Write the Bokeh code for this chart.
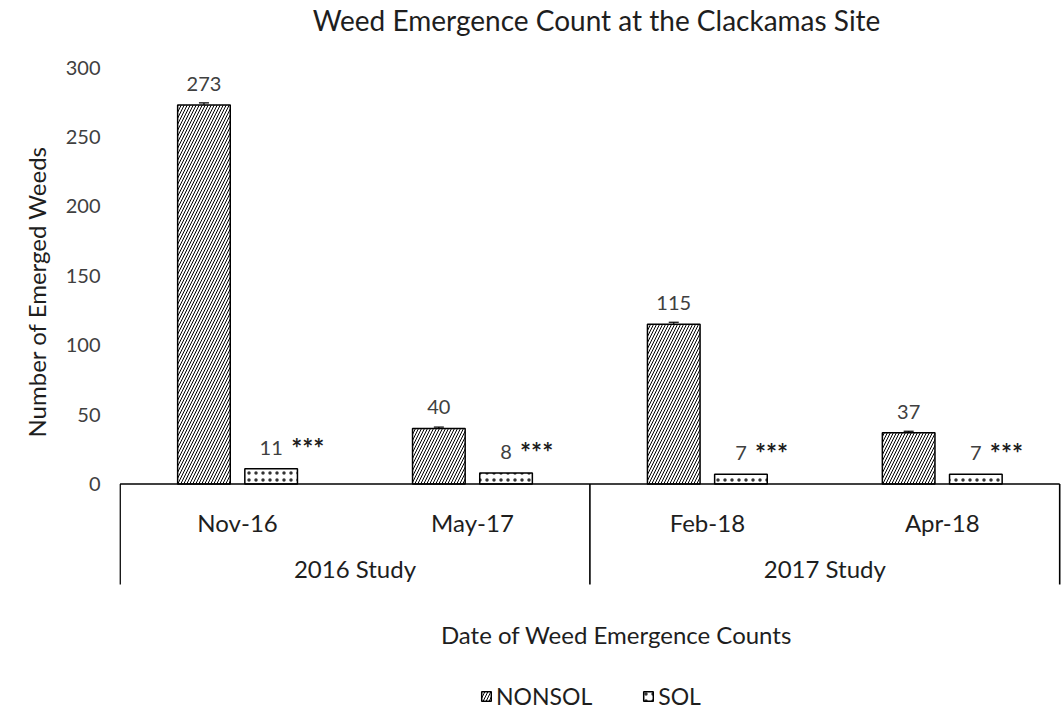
import math
from bokeh.plotting import figure
from bokeh.models import (ColumnDataSource, FixedTicker, Whisker, TeeHead, Legend,
                          LegendItem, Title, Range1d)
from bokeh.core.properties import value
from bokeh.embed import file_html
from bokeh.resources import INLINE

# ---- data ----
title_text = "Weed Emergence Count at the Clackamas Site"
dates = ["Nov-16", "May-17", "Feb-18", "Apr-18"]
studies = ["2016 Study", "2017 Study"]
study_sizes = [2, 2]
nonsol = [273, 40, 115, 37]
sol = [11, 8, 7, 7]
nonsol_err = [1.5, 1.0, 1.5, 1.0]
sig_marks = ["***", "***", "***", "***"]
y_ticks = [0, 50, 100, 150, 200, 250, 300]
y_label = "Number of Emerged Weeds"
x_label = "Date of Weed Emergence Counts"
series_names = ["NONSOL", "SOL"]

FONT = value("Lato")
DARK = "#1e1e1e"
GREY = "#404040"

W, H = 1063, 710
LEFT = 119
X0 = 119.6          # pixel of x = 0
UX = 234.9          # pixels per category
Y0 = 483.5          # pixel of y = 0
U = 300.0 / 416.5   # data units per pixel (vertical)


def px_x(px):
    return (px - X0) / UX


def px_y(py):
    return (Y0 - py) * U


n = len(dates)
p = figure(width=W, height=H, output_backend="svg", toolbar_location=None,
           x_range=Range1d(px_x(LEFT), px_x(W)), y_range=Range1d(px_y(H), px_y(0)),
           x_axis_type=None, min_border_left=LEFT, min_border_right=0,
           min_border_top=0, min_border_bottom=0)
p.outline_line_color = None
p.grid.visible = False
p.background_fill_color = "white"

yax = p.yaxis[0]
yax.ticker = FixedTicker(ticks=y_ticks)
yax.axis_line_color = None
yax.major_tick_line_color = None
yax.minor_tick_line_color = None
yax.major_tick_out = 0
yax.major_tick_in = 0
yax.major_label_standoff = 19
yax.major_label_text_font = "Lato"
yax.major_label_text_font_size = "20px"
yax.major_label_text_color = GREY

# y-axis title as a side title (kept outside the plotting frame)
ytitle = Title(text=y_label, align="left", offset=273, text_font="Lato",
               text_font_size="24px", text_font_style="normal", text_color=DARK,
               vertical_align="top", standoff=20)
p.add_layout(ytitle, "left")

xc = [i + 0.5 for i in range(n)]
off = 0.143
bw = 0.224
src = ColumnDataSource(dict(
    xn=[x - off for x in xc], xs=[x + off for x in xc],
    nonsol=nonsol, sol=sol,
    up=[v + e for v, e in zip(nonsol, nonsol_err)],
    lo=[v - e for v, e in zip(nonsol, nonsol_err)],
    nlab=[str(v) for v in nonsol], slab=[str(v) for v in sol], sig=sig_marks,
    sigoff=[8 + 6 * len(str(v)) for v in sol],
))

r1 = p.vbar(x="xn", top="nonsol", width=bw, bottom=0, source=src,
            fill_color="white", line_color="black", line_width=1.5,
            hatch_pattern="/", hatch_color="black", hatch_scale=6, hatch_weight=1.0)
r2 = p.vbar(x="xs", top="sol", width=bw, bottom=0, source=src,
            fill_color="white", line_color="black", line_width=1.5,
            hatch_pattern=".", hatch_color="#333333", hatch_scale=7, hatch_weight=1.1)

wh = Whisker(base="xn", upper="up", lower="lo", source=src, line_color="black",
             line_width=1.2,
             upper_head=TeeHead(size=10, line_color="black", line_width=1.2),
             lower_head=TeeHead(size=10, line_color="black", line_width=1.2))
p.add_layout(wh)

# value labels
p.text(x="xn", y="nonsol", text="nlab", source=src, text_font=FONT,
       text_font_size="20px", text_color=GREY, text_align="center",
       text_baseline="alphabetic", y_offset=-21)
p.text(x="xs", y="sol", text="slab", source=src, text_font=FONT,
       text_font_size="20px", text_color=GREY, text_align="center",
       text_baseline="alphabetic", y_offset=-21)
p.text(x="xs", y="sol", text="sig", source=src, text_font=FONT,
       text_font_size="26px", text_font_style="bold", text_color=DARK,
       text_align="left", text_baseline="alphabetic", x_offset="sigoff", y_offset=-21)

# axis baseline and group separators
p.segment(x0=[0], y0=[0], x1=[n], y1=[0], line_color="black", line_width=1.6)
bounds = [0]
for s in study_sizes:
    bounds.append(bounds[-1] + s)
y_sep = px_y(584)
p.segment(x0=bounds, y0=[0] * len(bounds), x1=bounds, y1=[y_sep] * len(bounds),
          line_color="black", line_width=1.6)

# category labels
p.text(x=xc, y=[px_y(522)] * n, text=dates, text_font=FONT,
       text_font_size="24px", text_color=DARK, text_align="center",
       text_baseline="middle")
gc = [(bounds[i] + bounds[i + 1]) / 2 for i in range(len(studies))]
p.text(x=gc, y=[px_y(568)] * len(studies), text=studies, text_font=FONT,
       text_font_size="24px", text_color=DARK, text_align="center",
       text_baseline="middle")

# chart title and x title
p.text(x=[px_x(596)], y=[px_y(19)], text=[title_text],
       text_font=FONT, text_font_size="28px", text_color=DARK,
       text_align="center", text_baseline="middle")
p.text(x=[px_x(616)], y=[px_y(634)], text=[x_label],
       text_font=FONT, text_font_size="24px", text_color=DARK,
       text_align="center", text_baseline="middle")

legend = Legend(items=[LegendItem(label=series_names[0], renderers=[r1]),
                       LegendItem(label=series_names[1], renderers=[r2])],
                orientation="horizontal", location=(480 - LEFT, 0))
legend.border_line_color = None
legend.background_fill_alpha = 0
legend.label_text_font = "Lato"
legend.label_text_font_size = "23px"
legend.label_text_color = DARK
legend.glyph_width = 12
legend.glyph_height = 12
legend.spacing = 50
legend.padding = 0
legend.margin = 0
legend.label_standoff = 4
p.add_layout(legend)

open("out.html", "w").write(file_html(p, INLINE))
